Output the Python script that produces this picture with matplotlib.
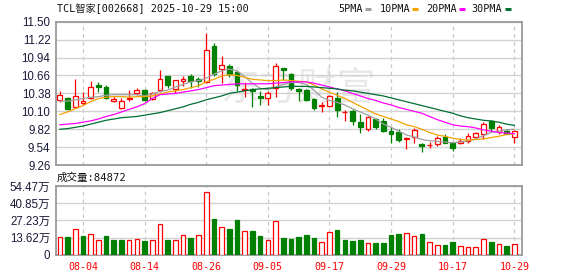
import matplotlib
matplotlib.use('Agg')
import matplotlib.pyplot as plt
from matplotlib.lines import Line2D
import numpy as np
import pandas as pd

# -----------------------------
# Dados
# -----------------------------
# dias de negociação mostrados, sem o feriado de outubro
dates = pd.bdate_range('2025-07-30', '2025-10-29')
dates = dates[(dates < '2025-10-01') | (dates > '2025-10-08')]

opens = [10.273, 10.304, 10.163, 10.226, 10.304, 10.512, 10.481, 10.262, 10.148, 10.288,
         10.382, 10.434, 10.288, 10.434, 10.652, 10.450, 10.579, 10.652, 10.605, 10.564,
         11.121, 10.756, 10.808, 10.710, 10.434, 10.449, 10.340, 10.310, 10.465, 10.775,
         10.678, 10.449, 10.434, 10.293, 10.184, 10.184, 10.304, 10.090, 10.111, 9.929,
         9.820, 9.976, 9.950, 9.794, 9.783, 9.663, 9.695, 9.590, 9.570, 9.585,
         9.695, 9.601, 9.611, 9.637, 9.695, 9.747, 9.955, 9.783, 9.794, 9.705]
highs = [10.418, 10.330, 10.606, 10.397, 10.574, 10.553, 10.512, 10.335, 10.304, 10.434,
         10.460, 10.449, 10.397, 10.746, 10.658, 10.595, 10.652, 10.678, 10.642, 11.329,
         11.163, 10.964, 10.840, 10.730, 10.560, 10.460, 10.410, 10.420, 10.860, 10.780,
         10.694, 10.460, 10.449, 10.304, 10.241, 10.356, 10.408, 10.122, 10.132, 10.064,
         10.028, 9.991, 9.991, 9.861, 9.820, 9.705, 9.835, 9.601, 9.627, 9.715,
         9.747, 9.611, 9.689, 9.757, 9.783, 9.939, 9.965, 9.887, 9.825, 9.809]
lows = [10.241, 10.122, 10.158, 10.200, 10.288, 10.408, 10.293, 10.241, 10.137, 10.262,
        10.356, 10.267, 10.273, 10.408, 10.470, 10.382, 10.501, 10.470, 10.486, 10.538,
        10.650, 10.538, 10.642, 10.410, 10.330, 10.174, 10.200, 10.200, 10.330, 10.590,
        10.434, 10.262, 10.262, 10.122, 10.096, 10.168, 10.007, 9.955, 9.887, 9.757,
        9.794, 9.825, 9.773, 9.611, 9.617, 9.507, 9.611, 9.460, 9.523, 9.554,
        9.601, 9.486, 9.585, 9.611, 9.669, 9.663, 9.783, 9.742, 9.742, 9.611]
closes = [10.356, 10.137, 10.340, 10.262, 10.481, 10.486, 10.314, 10.293, 10.257, 10.314,
          10.434, 10.278, 10.382, 10.600, 10.512, 10.585, 10.611, 10.574, 10.579, 11.058,
          10.690, 10.824, 10.678, 10.512, 10.444, 10.420, 10.310, 10.380, 10.808, 10.740,
          10.460, 10.423, 10.278, 10.158, 10.194, 10.340, 10.122, 10.096, 9.955, 9.861,
          10.007, 9.861, 9.794, 9.741, 9.653, 9.679, 9.809, 9.559, 9.575, 9.689,
          9.611, 9.533, 9.637, 9.715, 9.757, 9.903, 9.835, 9.851, 9.747, 9.794]

# volume em 万手
volumes = [14.3, 13.8, 20.1, 14.6, 16.7, 12.0, 14.6, 11.4, 11.4, 11.4,
           12.7, 10.6, 12.0, 24.6, 11.4, 12.0, 15.9, 13.0, 15.9, 49.8,
           28.7, 22.2, 20.1, 27.2, 19.0, 18.5, 14.6, 12.0, 26.9, 13.0,
           12.2, 13.8, 15.4, 13.0, 10.4, 18.3, 19.3, 11.4, 10.6, 11.4,
           9.6, 9.05, 9.05, 15.4, 16.1, 17.5, 15.1, 16.1, 10.4, 8.0,
           8.0, 9.8, 7.2, 6.4, 6.4, 12.7, 9.8, 8.8, 6.7, 8.49]
# cor da barra de volume: 1 = vermelho, 0 = verde
vol_up = [1, 0, 1, 0, 1, 1, 0, 0, 0, 1, 1, 0, 1, 1, 0, 1, 1, 0, 1, 1,
          0, 1, 0, 0, 1, 0, 0, 1, 1, 0, 0, 0, 0, 0, 1, 1, 0, 0, 0, 0,
          1, 0, 0, 0, 0, 1, 1, 0, 1, 1, 0, 0, 1, 1, 1, 1, 0, 1, 0, 1]

ma5 = [10.26, 10.26, 10.28, 10.30, 10.32, 10.33, 10.35, 10.36, 10.36, 10.36, 10.36, 10.34,
       10.37, 10.41, 10.43, 10.48, 10.52, 10.56, 10.58, 10.62, 10.68, 10.73, 10.76, 10.73,
       10.64, 10.54, 10.46, 10.44, 10.48, 10.52, 10.55, 10.55, 10.52, 10.43, 10.32, 10.27,
       10.24, 10.20, 10.14, 10.09, 10.04, 9.98, 9.90, 9.85, 9.79, 9.73, 9.70, 9.66,
       9.64, 9.63, 9.62, 9.61, 9.62, 9.64, 9.67, 9.72, 9.77, 9.79, 9.81, 9.82]
ma10 = [10.05, 10.09, 10.14, 10.19, 10.25, 10.30, 10.32, 10.33, 10.33, 10.32, 10.33, 10.33,
        10.34, 10.37, 10.40, 10.42, 10.44, 10.47, 10.50, 10.56, 10.60, 10.65, 10.67, 10.66,
        10.63, 10.60, 10.59, 10.58, 10.58, 10.59, 10.58, 10.57, 10.56, 10.51, 10.45, 10.40,
        10.35, 10.30, 10.24, 10.18, 10.12, 10.06, 10.02, 9.98, 9.94, 9.89, 9.86, 9.82,
        9.77, 9.73, 9.71, 9.68, 9.66, 9.65, 9.66, 9.67, 9.69, 9.71, 9.74, 9.75]
ma20 = [9.89, 9.90, 9.91, 9.93, 9.95, 9.98, 10.02, 10.05, 10.09, 10.13, 10.17, 10.22,
        10.30, 10.36, 10.37, 10.38, 10.40, 10.42, 10.44, 10.47, 10.50, 10.51, 10.52, 10.53,
        10.53, 10.53, 10.53, 10.53, 10.54, 10.55, 10.56, 10.56, 10.56, 10.54, 10.51, 10.48,
        10.45, 10.42, 10.38, 10.34, 10.30, 10.27, 10.23, 10.20, 10.16, 10.13, 10.10, 10.07,
        10.02, 9.97, 9.93, 9.89, 9.87, 9.86, 9.84, 9.81, 9.79, 9.77, 9.76, 9.75]
ma30 = [9.82, 9.83, 9.85, 9.87, 9.90, 9.93, 9.96, 9.98, 10.00, 10.01, 10.02, 10.04,
        10.06, 10.08, 10.11, 10.14, 10.17, 10.21, 10.24, 10.28, 10.31, 10.34, 10.38, 10.40,
        10.42, 10.44, 10.45, 10.46, 10.47, 10.48, 10.49, 10.49, 10.49, 10.48, 10.47, 10.46,
        10.45, 10.43, 10.42, 10.40, 10.38, 10.36, 10.34, 10.31, 10.28, 10.25, 10.22, 10.19,
        10.16, 10.13, 10.10, 10.07, 10.03, 10.00, 9.98, 9.96, 9.95, 9.93, 9.90, 9.88]

price_ticks = [9.26, 9.54, 9.82, 10.10, 10.38, 10.66, 10.94, 11.22, 11.50]
vol_ticks = [0, 13.62, 27.23, 40.85, 54.47]
vol_tick_labels = ['0', '13.62万', '27.23万', '40.85万', '54.47万']

titulo = 'TCL智家[002668] 2025-10-29 15:00'
ma_names = ['5PMA', '10PMA', '20PMA', '30PMA']
ma_colors = ['#a0a0a0', '#f5a300', '#ff00ff', '#006e33']

# -----------------------------
# Estilo
# -----------------------------
RED = '#ff0000'
GREEN = '#008000'
GRID = '#d2d2d2'
BORDA = '#9a9a9a'
TXT = '#1a1a3a'
MONO = ['DejaVu Sans Mono', 'Noto Sans CJK SC']
SANS = ['Liberation Sans', 'Noto Sans CJK SC']

W, H = 578, 276
fig = plt.figure(figsize=(W / 100, H / 100), dpi=100)


def box(l, t, r, b):
    return [l / W, 1 - b / H, (r - l) / W, (b - t) / H]


ax = fig.add_axes(box(56, 21.7, 522, 165.1))
axv = fig.add_axes(box(56, 186.3, 522, 254.6))

x = np.arange(len(closes))
o = np.array(opens)
c = np.array(closes)
up = c >= o
tick_idx = list(range(3, len(dates), 8))

# marca d'água
ax.text(0.52, 0.53, '东方财富', transform=ax.transAxes, ha='center', va='center',
        fontsize=28, color='#e8e8e8', family=['Noto Sans CJK SC'], zorder=0)

# -----------------------------
# Velas
# -----------------------------
cores = np.where(up, RED, GREEN)
ax.vlines(x, lows, highs, colors=cores, lw=0.9, zorder=2)
ax.bar(x, np.abs(c - o), bottom=np.minimum(o, c), width=0.62,
       facecolor=np.where(up, 'white', GREEN), edgecolor=cores, lw=0.9, zorder=3)

for serie, cor in zip([ma5, ma10, ma20, ma30], ma_colors):
    ax.plot(x, serie, color=cor, lw=0.9, zorder=4)

# -----------------------------
# Volume
# -----------------------------
vcores = [RED if u else GREEN for u in vol_up]
vfaces = ['white' if u else GREEN for u in vol_up]
axv.bar(x, volumes, width=0.6, facecolor=vfaces, edgecolor=vcores, lw=0.9, zorder=3)

# -----------------------------
# Eixos
# -----------------------------
for a in (ax, axv):
    a.set_xlim(-0.5, 60.0)
    a.set_xticks(tick_idx)
    a.grid(axis='y', color=GRID, lw=1.0, zorder=1)
    a.grid(axis='x', color='#c8c8c8', lw=0.9, ls=(0, (3, 3)), zorder=1)
    a.set_axisbelow(True)
    for s in a.spines.values():
        s.set_color(BORDA)
        s.set_linewidth(1.3)
    a.tick_params(length=0, pad=4)

ax.set_ylim(9.26, 11.50)
ax.set_yticks(price_ticks)
ax.set_yticklabels(['%.2f' % v for v in price_ticks], fontsize=8.3, color=TXT, family=SANS)
ax.set_xticklabels([])

axv.set_ylim(0, 54.47)
axv.set_yticks(vol_ticks)
axv.set_yticklabels(vol_tick_labels, fontsize=8.3, color=TXT, family=SANS)
axv.set_xticklabels([dates[i].strftime('%m-%d') for i in tick_idx],
                    fontsize=7.2, color=RED, family=MONO)
axv.tick_params(axis='x', pad=5)

# -----------------------------
# Textos
# -----------------------------
fig.text(57 / W, 1 - 8.7 / H, titulo, ha='left', va='center', fontsize=7.3,
         color='#111111', family=MONO)
fig.text(57 / W, 1 - 177.3 / H, '成交量:84872', ha='left', va='center', fontsize=7.6,
         color='#111111', family=MONO)

leg_x = [338.7, 380, 425.7, 471]
bar_x = [364.7, 412, 459, 505]
for nome, cor, lx, bx in zip(ma_names, ma_colors, leg_x, bar_x):
    fig.text(lx / W, 1 - 9 / H, nome, ha='left', va='center', fontsize=7.3,
             color='#111111', family=MONO)
    fig.add_artist(Line2D([bx / W, (bx + 6) / W], [1 - 9 / H, 1 - 9 / H],
                          color=cor, lw=2.2, solid_capstyle='butt'))

fig.savefig('out.png', dpi=100)
